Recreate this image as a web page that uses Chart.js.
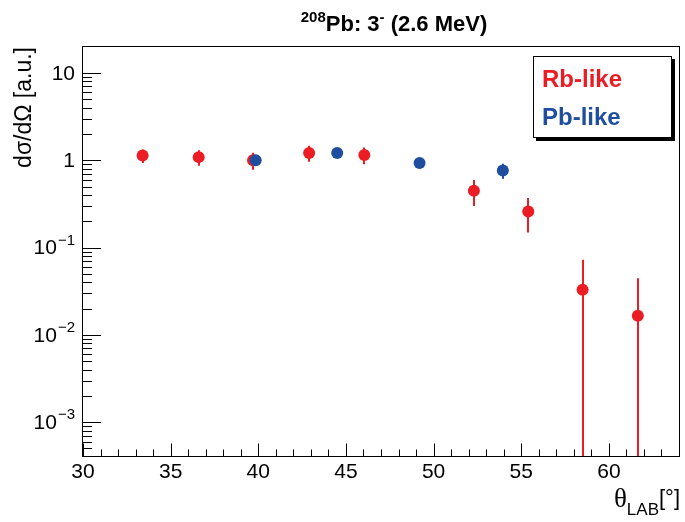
<!doctype html>
<html lang="en">
<head>
<meta charset="utf-8">
<title>208Pb 3- (2.6 MeV) angular distribution</title>
<style>
  html, body { margin: 0; padding: 0; background: #fff; }
  #wrap { width: 685px; height: 522px; }
</style>
</head>
<body>
<div id="wrap"><canvas id="xsChart" width="685" height="522"></canvas></div>
<script src="https://cdn.jsdelivr.net/npm/chart.js@4.4.1/dist/chart.umd.min.js"></script>
<script>
// Rb-like (red) points
const rbTheta = [33.4, 36.6, 39.7, 42.9, 46.05, 52.3, 55.4, 58.5, 61.65];
const rbXs    = [1.13, 1.085, 1.0, 1.21, 1.15, 0.447, 0.259, 0.0329, 0.0166];
const rbErr   = [0.20, 0.22, 0.22, 0.25, 0.25, 0.148, 0.11, 0.0395, 0.028];

// Pb-like (blue) points
const pbTheta = [39.85, 44.5, 49.2, 53.95];
const pbXs    = [1.0, 1.21, 0.93, 0.763];
const pbErr   = [0.12, 0.12, 0.12, 0.15];

const xTicks = [30, 35, 40, 45, 50, 55, 60];
const yExponents = [-3, -2, -1, 0, 1];

const RED = '#ec1c24';
const BLUE = '#1f4e9e';
const SANS = '"Liberation Sans", Arial, Helvetica, sans-serif';
const SERIF = '"Liberation Serif", "Times New Roman", serif';

function toPoints(xs, ys) {
  return xs.map((v, i) => ({ x: v, y: ys[i] }));
}

// ROOT-like frame, inward ticks, labels, error bars and legend
const rootStyle = {
  id: 'rootStyle',
  beforeDatasetsDraw(chart) {
    const { ctx, chartArea: a, scales: { x, y } } = chart;
    ctx.save();
    ctx.beginPath();
    ctx.rect(a.left, a.top, a.right - a.left, a.bottom - a.top);
    ctx.clip();
    ctx.lineWidth = 2;
    chart.data.datasets.forEach(ds => {
      ctx.strokeStyle = ds.backgroundColor;
      ds.data.forEach((p, i) => {
        const e = ds.errors[i];
        const px = Math.round(x.getPixelForValue(p.x));
        const top = y.getPixelForValue(p.y + e);
        const bot = (p.y - e) > 0 ? y.getPixelForValue(p.y - e) : a.bottom + 5;
        ctx.beginPath();
        ctx.moveTo(px, top);
        ctx.lineTo(px, bot);
        ctx.stroke();
      });
    });
    ctx.restore();
  },
  afterDraw(chart) {
    const { ctx, chartArea: a, scales: { x, y } } = chart;
    ctx.save();

    // frame
    ctx.strokeStyle = '#000';
    ctx.lineWidth = 1;
    ctx.strokeRect(a.left - 0.5, a.top - 0.5, a.right - a.left + 1, a.bottom - a.top + 1);

    // x ticks (every degree, major every 5)
    ctx.beginPath();
    for (let v = Math.ceil(x.min); v <= x.max; v++) {
      const px = Math.round(x.getPixelForValue(v)) + 0.5;
      const len = v % 5 === 0 ? 12.5 : 6.5;
      ctx.moveTo(px, a.bottom);
      ctx.lineTo(px, a.bottom - len);
    }
    // y ticks (decades + 2..9)
    for (let d = -4; d <= 1; d++) {
      for (let m = 1; m <= 9; m++) {
        const v = m * Math.pow(10, d);
        if (v < y.min || v > y.max) continue;
        const py = Math.round(y.getPixelForValue(v)) + 0.5;
        const len = m === 1 ? 18 : 9;
        ctx.moveTo(a.left, py);
        ctx.lineTo(a.left + len, py);
      }
    }
    ctx.stroke();

    // x tick labels
    ctx.fillStyle = '#000';
    ctx.font = '21px ' + SANS;
    ctx.textAlign = 'center';
    ctx.textBaseline = 'alphabetic';
    xTicks.forEach(v => {
      ctx.fillText(String(v), x.getPixelForValue(v), a.bottom + 22);
    });

    // y tick labels
    yExponents.forEach(ex => {
      const py = y.getPixelForValue(Math.pow(10, ex));
      const right = a.left - 8;
      ctx.textBaseline = 'middle';
      ctx.textAlign = 'right';
      if (ex === 0 || ex === 1) {
        ctx.font = '21px ' + SANS;
        ctx.fillText(ex === 0 ? '1' : '10', right, py + 1);
      } else {
        const sup = '\u2212' + Math.abs(ex);
        ctx.font = '15px ' + SANS;
        const sw = ctx.measureText(sup).width;
        ctx.fillText(sup, right, py - 7);
        ctx.font = '21px ' + SANS;
        ctx.fillText('10', right - sw - 1, py + 1);
      }
    });

    // title: 208Pb: 3- (2.6 MeV)
    const parts = [
      { t: '208', f: 'bold 15px ' + SANS, dy: -9 },
      { t: 'Pb: 3', f: 'bold 22px ' + SANS, dy: 0 },
      { t: '-', f: 'bold 15px ' + SANS, dy: -9 },
      { t: ' (2.6 MeV)', f: 'bold 22px ' + SANS, dy: 0 }
    ];
    let total = 0;
    parts.forEach(p => { ctx.font = p.f; p.w = ctx.measureText(p.t).width; total += p.w; });
    let tx = 394 - total / 2;
    ctx.textAlign = 'left';
    ctx.textBaseline = 'alphabetic';
    parts.forEach(p => {
      ctx.font = p.f;
      ctx.fillText(p.t, tx, 31 + p.dy);
      tx += p.w;
    });

    // y axis title
    ctx.save();
    ctx.translate(31, a.top);
    ctx.rotate(-Math.PI / 2);
    ctx.font = '23px ' + SANS;
    ctx.textAlign = 'right';
    ctx.fillText('d\u03C3/d\u03A9 [a.u.]', 0, 0);
    ctx.restore();

    // x axis title: theta_LAB [deg]
    ctx.font = '22px ' + SANS;
    const br = '[\u00B0]';
    const brW = ctx.measureText(br).width;
    ctx.font = '17px ' + SANS;
    const labW = ctx.measureText('LAB').width;
    ctx.font = '27px ' + SERIF;
    const thW = ctx.measureText('\u03B8').width;
    let xx = a.right + 1 - brW - labW - thW;
    ctx.fillText('\u03B8', xx, 507);
    xx += thW;
    ctx.font = '17px ' + SANS;
    ctx.fillText('LAB', xx, 515);
    xx += labW;
    ctx.font = '22px ' + SANS;
    ctx.fillText(br, xx, 505);

    // legend box with shadow
    const lx = 533, ly = 56, lw = 139, lh = 82;
    ctx.fillStyle = '#000';
    ctx.fillRect(lx + 3, ly + 3, lw, lh);
    ctx.fillStyle = '#fff';
    ctx.fillRect(lx, ly, lw, lh);
    ctx.strokeStyle = '#000';
    ctx.strokeRect(lx + 0.5, ly + 0.5, lw - 1, lh - 1);
    ctx.font = 'bold 24px ' + SANS;
    ctx.textAlign = 'left';
    chart.data.datasets.forEach((ds, i) => {
      ctx.fillStyle = ds.backgroundColor;
      ctx.fillText(ds.label, 542, 87 + i * 38);
    });

    ctx.restore();
  }
};

new Chart(document.getElementById('xsChart').getContext('2d'), {
  type: 'scatter',
  data: {
    datasets: [
      {
        label: 'Rb-like',
        data: toPoints(rbTheta, rbXs),
        errors: rbErr,
        backgroundColor: RED,
        borderWidth: 0,
        pointRadius: 6,
        order: 1
      },
      {
        label: 'Pb-like',
        data: toPoints(pbTheta, pbXs),
        errors: pbErr,
        backgroundColor: BLUE,
        borderWidth: 0,
        pointRadius: 6,
        order: 0
      }
    ]
  },
  options: {
    responsive: false,
    animation: false,
    events: [],
    layout: { padding: { left: 83, right: 3, top: 47, bottom: 66 } },
    plugins: { legend: { display: false }, tooltip: { enabled: false }, title: { display: false } },
    scales: {
      x: { type: 'linear', min: 30, max: 64, display: false },
      y: { type: 'logarithmic', min: 4.1e-4, max: 19.8, display: false }
    }
  },
  plugins: [rootStyle]
});
</script>
</body>
</html>
